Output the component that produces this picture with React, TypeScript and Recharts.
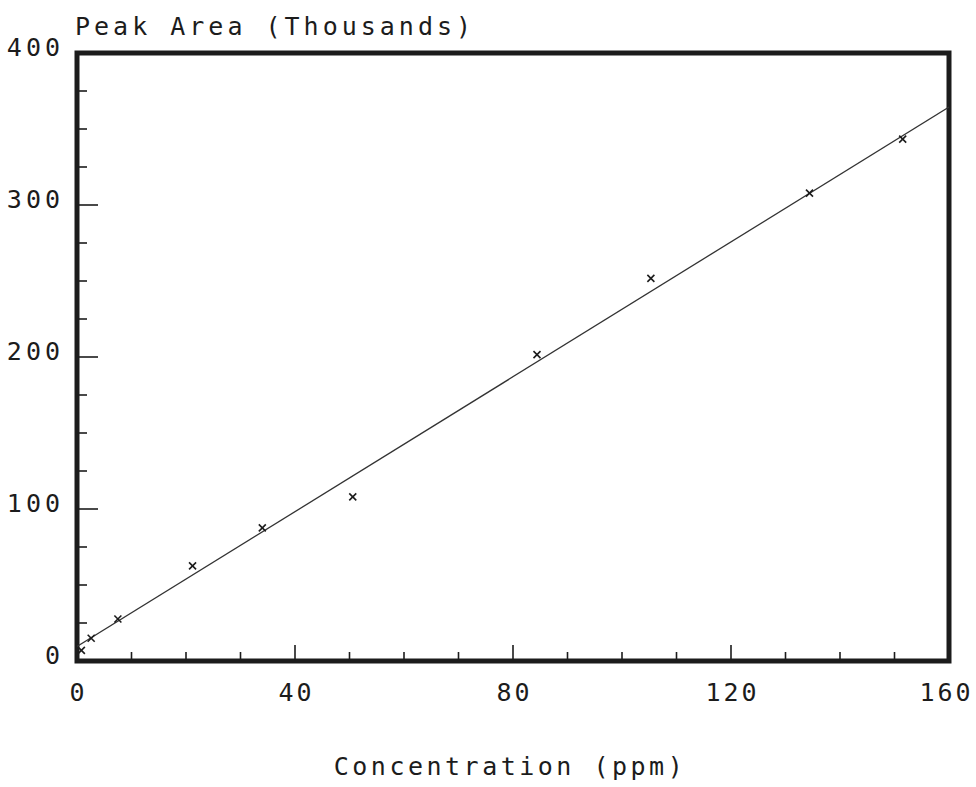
import React from "react";
import {
  ComposedChart, Scatter, Line, XAxis, YAxis, ReferenceArea,
} from "recharts";

// calibration points
const concentration = [0.8, 2.6, 7.5, 21.2, 34, 50.6, 84.4, 105.3, 134.4, 151.5];
const peakArea = [7, 15, 27.6, 62.6, 87.6, 108, 201.6, 251.7, 307.8, 343.3];

// fitted line end points
const fitX = [0, 160];
const fitY = [9.5, 364.5];

const xTicks = [0, 10, 20, 30, 40, 50, 60, 70, 80, 90, 100, 110, 120, 130, 140, 150, 160];
const xLabelled = [0, 40, 80, 120, 160];
const yTicks = [0, 25, 50, 75, 100, 125, 150, 175, 200, 225, 250, 275, 300, 325, 350, 375, 400];
const yLabelled = [0, 100, 200, 300, 400];

const points = concentration.map((x, i) => ({ x, y: peakArea[i] }));
const fit = fitX.map((x, i) => ({ x, fit: fitY[i] }));

const INK = "#1c1c1c";
const FONT = "'DejaVu Sans Mono', monospace";

const Cross = (props: any) => {
  const { cx, cy } = props;
  if (cx == null || cy == null) return null;
  const s = 3.5;
  return (
    <g stroke={INK} strokeWidth={1.6}>
      <line x1={cx - s} y1={cy - s} x2={cx + s} y2={cy + s} />
      <line x1={cx - s} y1={cy + s} x2={cx + s} y2={cy - s} />
    </g>
  );
};

const XTick = (props: any) => {
  const { x, payload } = props;
  const major = xLabelled.includes(payload.value);
  const axisY = 661;
  return (
    <g>
      {payload.value > 0 && payload.value < 160 && (
        <line x1={x} x2={x} y1={axisY} y2={axisY - (major ? 16 : 9)} stroke={INK} strokeWidth={1.6} />
      )}
      {major && (
        <text x={payload.value === 160 ? x - 4 : x} y={701} textAnchor="middle" fontFamily={FONT} fontSize={25}
          letterSpacing={3} dx={1.5} fill={INK}>
          {payload.value}
        </text>
      )}
    </g>
  );
};

const YTick = (props: any) => {
  const { y, payload } = props;
  const major = yLabelled.includes(payload.value);
  const axisX = 77;
  return (
    <g>
      {payload.value > 0 && payload.value < 400 && (
        <line x1={axisX} x2={axisX + (major ? 21 : 10)} y1={y} y2={y} stroke={INK} strokeWidth={1.6} />
      )}
      {major && (
        <text x={64} y={y + 3} textAnchor="end" fontFamily={FONT} fontSize={25}
          letterSpacing={4} fill={INK}>
          {payload.value}
        </text>
      )}
    </g>
  );
};

export default function App() {
  return (
    <div style={{ position: "absolute", left: 0, top: 0, width: 976, height: 787, background: "#fff" }}>
      <div style={{
        position: "absolute", left: 75, top: 12, fontFamily: FONT, fontSize: 25,
        letterSpacing: 4, color: INK, whiteSpace: "nowrap", lineHeight: "30px",
      }}>
        Peak Area (Thousands)
      </div>
      <div style={{
        position: "absolute", left: 0, width: 1020, top: 752, textAlign: "center", fontFamily: FONT,
        fontSize: 25, letterSpacing: 3.5, color: INK, whiteSpace: "nowrap", lineHeight: "30px",
      }}>
        Concentration (ppm)
      </div>
      <ComposedChart width={976} height={787} margin={{ top: 53, right: 27, bottom: 96, left: 0 }}>
        <XAxis
          type="number"
          dataKey="x"
          height={30}
          domain={[0, 160]}
          ticks={xTicks}
          interval={0}
          tick={<XTick />}
          tickLine={false}
          axisLine={false}
          allowDataOverflow
        />
        <YAxis
          type="number"
          width={77}
          domain={[0, 400]}
          ticks={yTicks}
          interval={0}
          tick={<YTick />}
          tickLine={false}
          axisLine={false}
          allowDataOverflow
        />
        <Line
          data={fit}
          dataKey="fit"
          type="linear"
          stroke="#333"
          strokeWidth={1.3}
          dot={false}
          activeDot={false}
          isAnimationActive={false}
        />
        <Scatter
          data={points}
          dataKey="y"
          shape={<Cross />}
          isAnimationActive={false}
        />
        <ReferenceArea x1={0} x2={160} y1={0} y2={400} fill="none" stroke={INK} strokeWidth={5} />
      </ComposedChart>
    </div>
  );
}
